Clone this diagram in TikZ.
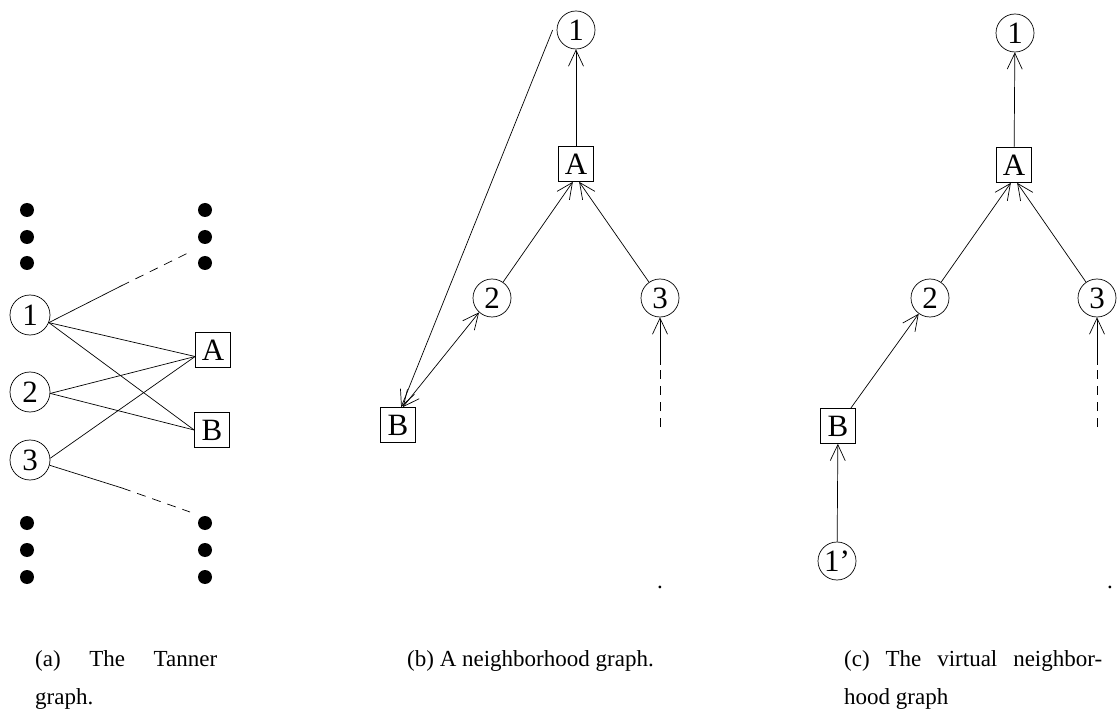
\documentclass[tikz,border=0pt]{standalone}
\usepackage{fontspec}
\setmainfont{Liberation Serif}
\usetikzlibrary{arrows.meta}
\begin{document}
\begin{tikzpicture}[x=1pt,y=-1pt,
  every node/.style={inner sep=0pt},
  vn/.style={draw,circle,minimum size=38pt,line width=0.7pt,font=\fontsize{31}{31}\selectfont},
  vna/.style={vn,minimum size=40pt},
  cn/.style={draw,rectangle,minimum width=35pt,minimum height=35pt,line width=0.7pt,font=\fontsize{31}{31}\selectfont},
  dotn/.style={circle,fill=black,minimum size=14pt},
  ln/.style={line width=0.7pt},
  mytip/.tip={Straight Barb[length=16pt,width=15pt]},
  arr/.style={ln,-mytip},
  darr/.style={ln,mytip-mytip},
  dsh/.style={ln,dash pattern=on 9pt off 7pt},
  captxt/.style={anchor=base west,font=\fontsize{23}{38}\selectfont},
  pertxt/.style={anchor=base,font=\fontsize{23}{23}\selectfont}]
\useasboundingbox (0,0) rectangle (1117,711);

% ---------- (a) Tanner graph ----------
\foreach \y [count=\i] in {210,237,263} {
  \node[dotn] (la\i) at (27,\y) {};
  \node[dotn] (ra\i) at (205,\y) {};
}
\foreach \y [count=\i] in {523,550,577} {
  \node[dotn] (lb\i) at (27,\y) {};
  \node[dotn] (rb\i) at (205,\y) {};
}
\node[vna] (a1) at (30,315) {1};
\node[vna] (a2) at (30,392) {2};
\node[vna] (a3) at (30,460) {3};
\node[cn] (aA) at (213,350) {A};
\node[cn] (aB) at (212,430) {B};
\coordinate (m1) at (121,286);
\coordinate (e1) at (190,252);
\coordinate (m3) at (122,488);
\coordinate (e3) at (190,512);
\draw[ln] (a1.-22) -- (m1);
\draw[dsh] (m1) -- (e1);
\draw[ln] (a1.-22) -- (aA.-160);
\draw[ln] (a1.-22) -- (aB.west);
\draw[ln] (a2.-4) -- (aA.-160);
\draw[ln] (a2.-4) -- (aB.west);
\draw[ln] (a3.5) -- (aA.-160);
\draw[ln] (a3.-15) -- (m3);
\draw[dsh] (m3) -- (e3);

% ---------- (b) neighborhood graph ----------
\node[vn] (b1) at (576,30) {1};
\node[cn] (bA) at (576,164) {A};
\node[vn] (b2) at (492,298) {2};
\node[vn] (b3) at (660,298) {3};
\node[cn] (bB) at (398,425) {B};
\draw[arr] (bA) -- (b1);
\draw[arr] (b2) -- (bA.-100);
\draw[arr] (b3) -- (bA.-80);
\coordinate (b3e) at (660,427);
\coordinate (b3m) at (660,365);
\draw[dsh] (b3e) -- (b3m);
\draw[arr] (b3m) -- (b3);
\draw[arr] ([xshift=-4pt]b1.west) -- (bB.80);
\draw[darr] (bB.75) -- (b2.228);
\node[pertxt] (bdot) at (660,588) {.};

% ---------- (c) virtual neighborhood graph ----------
\node[vn] (c1) at (1015,33) {1};
\node[cn] (cA) at (1014,165) {A};
\node[vn] (c2) at (930,298) {2};
\node[vn] (c3) at (1097,298) {3};
\node[cn] (cB) at (838,426) {B};
\node[vn] (c1p) at (837,561) {1'};
\draw[arr] (cA) -- (c1);
\draw[arr] (c2) -- (cA.-100);
\draw[arr] (c3) -- (cA.-80);
\draw[arr] (cB) -- (c2);
\draw[arr] (c1p) -- (cB);
\coordinate (c3e) at (1097,427);
\coordinate (c3m) at (1097,365);
\draw[dsh] (c3e) -- (c3m);
\draw[arr] (c3m) -- (c3);
\node[pertxt] (cdot) at (1110,588) {.};

% ---------- captions ----------
\node[captxt] (capa1) at (35,666) {\makebox[182pt][s]{(a) The Tanner}};
\node[captxt] (capa2) at (35,704) {graph.};
\node[captxt] (capb) at (407,666) {(b) A neighborhood graph.};
\node[captxt] (capc1) at (844,666) {\makebox[258pt][s]{(c) The virtual neighbor-}};
\node[captxt] (capc2) at (844,704) {hood graph};
\end{tikzpicture}
\end{document}
